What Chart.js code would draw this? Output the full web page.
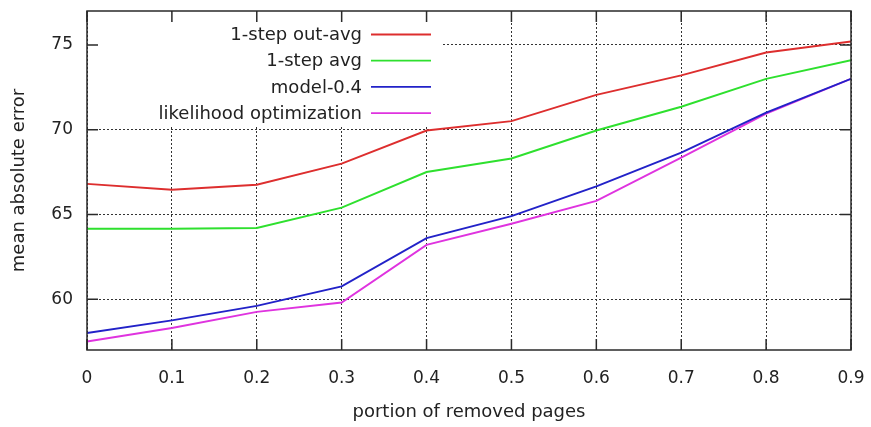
<!DOCTYPE html>
<html>
<head>
<meta charset="utf-8">
<script src="https://cdn.jsdelivr.net/npm/chart.js@4/dist/chart.umd.min.js"></script>
<style>
  html, body { margin: 0; padding: 0; background: #fff; }
  #wrap { width: 871px; height: 427px; }
</style>
</head>
<body>
<div id="wrap"><canvas id="maeChart" width="871" height="427"></canvas></div>
<script>
// --- data ---
const portion = [0, 0.1, 0.2, 0.3, 0.4, 0.5, 0.6, 0.7, 0.8, 0.9];
const outAvg = [66.8, 66.45, 66.75, 68.0, 69.95, 70.5, 72.05, 73.2, 74.55, 75.2];
const stepAvg = [64.15, 64.15, 64.2, 65.4, 67.5, 68.3, 69.95, 71.35, 73.0, 74.1];
const model04 = [58.0, 58.75, 59.6, 60.75, 63.6, 64.9, 66.65, 68.65, 71.0, 73.0];
const likelihood = [57.5, 58.3, 59.25, 59.8, 63.2, 64.45, 65.8, 68.35, 70.95, 73.0];
const seriesNames = ['1-step out-avg', '1-step avg', 'model-0.4', 'likelihood optimization'];
const seriesColors = ['#dd2e2e', '#2ee02e', '#2222c8', '#df33df'];
const xTicks = [0, 0.1, 0.2, 0.3, 0.4, 0.5, 0.6, 0.7, 0.8, 0.9];
const xTickLabels = ['0', '0.1', '0.2', '0.3', '0.4', '0.5', '0.6', '0.7', '0.8', '0.9'];
const yTicks = [60, 65, 70, 75];

const FONT = 'DejaVu Sans';
const TEXT = '#222';
const ctx = document.getElementById('maeChart').getContext('2d');

const toPoints = (ys) => portion.map((x, i) => ({ x: x, y: ys[i] }));
const allSeries = [outAvg, stepAvg, model04, likelihood];

// gnuplot-style frame, inward tick marks and key box
const gnuplotFrame = {
  id: 'gnuplotFrame',
  beforeDatasetsDraw(chart) {
    const c = chart.ctx;
    const a = chart.chartArea;
    // white key box hides the grid behind the legend
    c.save();
    c.fillStyle = '#fff';
    c.fillRect(a.left + 1, a.top + 1, 440 - a.left, 126 - a.top);
    c.restore();
  },
  afterDatasetsDraw(chart) {
    const c = chart.ctx;
    const a = chart.chartArea;
    const xs = chart.scales.x;
    const ys = chart.scales.y;
    const tl = 11;
    c.save();
    c.strokeStyle = '#2a2a2a';
    c.lineWidth = 1.5;
    c.beginPath();
    xTicks.forEach(v => {
      const px = xs.getPixelForValue(v);
      c.moveTo(px, a.bottom); c.lineTo(px, a.bottom - tl);
      c.moveTo(px, a.top); c.lineTo(px, a.top + tl);
    });
    yTicks.forEach(v => {
      const py = ys.getPixelForValue(v);
      c.moveTo(a.left, py); c.lineTo(a.left + tl, py);
      c.moveTo(a.right, py); c.lineTo(a.right - tl, py);
    });
    c.stroke();
    c.strokeRect(a.left, a.top, a.right - a.left, a.bottom - a.top);

    // key: right aligned text with a line sample
    c.font = '18px "' + FONT + '"';
    c.fillStyle = TEXT;
    c.textAlign = 'right';
    c.textBaseline = 'middle';
    seriesNames.forEach((name, i) => {
      const y = 34.5 + i * 26.2;
      c.fillText(name, 362, y + 1);
      c.strokeStyle = seriesColors[i];
      c.lineWidth = 1.8;
      c.beginPath();
      c.moveTo(371, y);
      c.lineTo(431, y);
      c.stroke();
    });
    c.restore();
  }
};

new Chart(ctx, {
  type: 'line',
  data: {
    datasets: allSeries.map((ys, i) => ({
      label: seriesNames[i],
      data: toPoints(ys),
      borderColor: seriesColors[i],
      backgroundColor: seriesColors[i],
      borderWidth: 1.9,
      pointRadius: 0,
      tension: 0,
      fill: false
    }))
  },
  options: {
    responsive: false,
    animation: false,
    devicePixelRatio: 1,
    layout: { padding: { top: 11, right: 20, left: 0, bottom: 0 } },
    plugins: {
      legend: { display: false },
      tooltip: { enabled: false }
    },
    scales: {
      x: {
        type: 'linear',
        min: 0,
        max: 0.9,
        afterBuildTicks: (s) => { s.ticks = xTicks.map(v => ({ value: v })); },
        afterFit: (s) => { s.height = 77; s.paddingLeft = 0; s.paddingRight = 0; },
        ticks: {
          autoSkip: false,
          maxRotation: 0,
          padding: 18,
          color: TEXT,
          font: { family: FONT, size: 17 },
          callback: (v) => {
            const i = xTicks.findIndex(t => Math.abs(t - v) < 1e-9);
            return i >= 0 ? xTickLabels[i] : '';
          }
        },
        grid: { color: '#333', lineWidth: 1, drawTicks: false },
        border: { display: false, dash: [2, 2] },
        title: {
          display: true,
          text: 'portion of removed pages',
          color: TEXT,
          font: { family: FONT, size: 18 },
          padding: { top: 0, bottom: 4 }
        }
      },
      y: {
        type: 'linear',
        min: 57,
        max: 77,
        afterBuildTicks: (s) => { s.ticks = yTicks.map(v => ({ value: v })); },
        afterFit: (s) => { s.width = 87; s.paddingTop = 0; s.paddingBottom = 0; },
        ticks: {
          padding: 14,
          color: TEXT,
          font: { family: FONT, size: 17 }
        },
        grid: { color: '#333', lineWidth: 1, drawTicks: false },
        border: { display: false, dash: [2, 2] },
        title: {
          display: true,
          text: 'mean absolute error',
          color: TEXT,
          font: { family: FONT, size: 18 },
          padding: { top: 9, bottom: 0 }
        }
      }
    }
  },
  plugins: [gnuplotFrame]
});
</script>
</body>
</html>
